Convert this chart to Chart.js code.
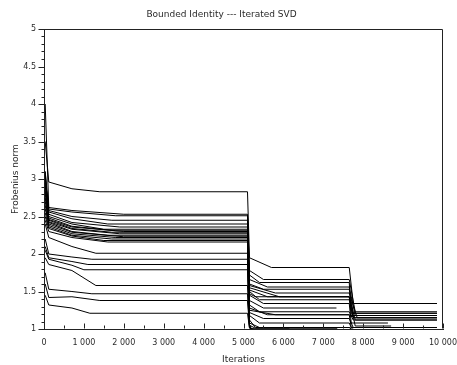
<!DOCTYPE html>
<html>
<head>
<meta charset="utf-8">
<script src="https://cdn.jsdelivr.net/npm/chart.js@4/dist/chart.umd.min.js"></script>
<style>
  html, body { margin: 0; padding: 0; background: #fff; }
  #wrap { width: 457px; height: 365px; }
</style>
</head>
<body>
<div id="wrap"><canvas id="svdChart"></canvas></div>
<script>
// Bounded Identity --- Iterated SVD : Frobenius norm per run

const TITLE = 'Bounded Identity --- Iterated SVD';
const X_TITLE = 'Iterations';
const Y_TITLE = 'Frobenius norm';

// break points shared by every run (iterations)
const START_AT = 30;
const EARLY_AT = 120;
const MID_AT = 700;
const DROP1_AT = 5100;
const DROP2_AT = 7650;

// one entry per run
const startNorm  = [3.50, 4.00, 3.10, 3.00, 2.90, 3.05, 2.80, 2.95, 2.70, 3.10, 2.85, 2.60, 2.75, 2.65, 2.55, 2.50, 2.45, 2.40, 2.20, 2.10, 2.05, 1.95, 1.75, 1.60, 1.45];
const earlyNorm  = [2.96, 2.62, 2.60, 2.58, 2.56, 2.53, 2.50, 2.48, 2.46, 2.45, 2.43, 2.42, 2.40, 2.38, 2.36, 2.34, 2.30, 2.22, 2.00, 1.95, 1.93, 1.86, 1.53, 1.42, 1.32];
const midNorm    = [2.87, 2.58, 2.56, 2.50, 2.47, 2.42, 2.40, 2.37, 2.36, 2.34, 2.33, 2.30, 2.29, 2.27, 2.25, 2.24, 2.22, 2.10, 1.96, 1.90, 1.85, 1.78, 1.50, 1.43, 1.28];
const settle1At  = [1400, 2000, 1800, 1700, 1600, 1900, 1500, 1800, 2000, 1700, 1900, 1600, 2000, 1800, 1700, 1500, 1600, 1300, 1200, 1100, 1000, 1300, 1200, 1400, 1150];
const plateau1   = [2.83, 2.53, 2.51, 2.45, 2.40, 2.36, 2.33, 2.31, 2.30, 2.29, 2.27, 2.25, 2.23, 2.22, 2.20, 2.18, 2.16, 2.01, 1.93, 1.86, 1.79, 1.58, 1.47, 1.38, 1.21];
const afterDrop1 = [1.95, 1.78, 1.72, 1.66, 1.60, 1.58, 1.55, 1.52, 1.50, 1.45, 1.47, 1.38, 1.32, 1.28, 1.25, 1.22, 1.18, 1.12, 1.06, 1.05, 1.08, 1.04, 1.03, 1.02, 1.01];
const settle2At  = [5700, 5500, 5400, 5600, 5500, 5800, 5900, 5600, 5400, 5500, 5300, 5500, 5400, 5600, 5800, 5500, 5400, 5300, 5200, 5300, 5400, 5200, 5200, 5200, 5200];
const plateau2   = [1.82, 1.66, 1.62, 1.56, 1.53, 1.48, 1.43, 1.43, 1.39, 1.34, 1.43, 1.28, 1.23, 1.19, 1.19, 1.14, 1.08, 1.02, 1.00, 1.01, 1.02, 1.00, 1.00, 1.00, 1.00];
const settle3At  = [7750, 7800, 7700, 7800, 7750, 7850, 7700, 7800, 7750, 7700, 7800, null, 7750, 7700, 7800, 7750, 7700, 7700, null, null, 7700, null, null, null, null];
const plateau3   = [1.34, 1.23, 1.21, 1.18, 1.21, 1.15, 1.18, 1.12, 1.15, 1.08, 1.04, null, 1.12, 1.02, 1.15, 1.02, 1.02, 1.00, null, null, 1.01, null, null, null, null];
const endAt      = [9850, 9850, 9850, 9850, 9850, 9850, 9850, 9850, 9850, 8620, 8700, 7330, 9850, 9850, 9850, 9850, 9850, 7750, 6150, 7350, 7700, 5250, 5300, 5200, 5250];

const X_MIN = 0, X_MAX = 10000;
const Y_MIN = 1, Y_MAX = 5;

const FONT = 'DejaVu Sans';
const TEXT = '#2a2a2a';
const AXIS = '#222';

function runPoints(i) {
  const pts = [
    { x: START_AT, y: startNorm[i] },
    { x: EARLY_AT, y: earlyNorm[i] },
    { x: MID_AT, y: midNorm[i] },
    { x: settle1At[i], y: plateau1[i] },
    { x: DROP1_AT, y: plateau1[i] },
    { x: DROP1_AT + 50, y: afterDrop1[i] }
  ];
  if (endAt[i] <= settle2At[i]) {
    pts.push({ x: endAt[i], y: plateau2[i] });
    return pts;
  }
  pts.push({ x: settle2At[i], y: plateau2[i] });
  if (plateau3[i] === null) {
    pts.push({ x: endAt[i], y: plateau2[i] });
    return pts;
  }
  pts.push({ x: DROP2_AT, y: plateau2[i] });
  pts.push({ x: settle3At[i], y: plateau3[i] });
  pts.push({ x: endAt[i], y: plateau3[i] });
  return pts;
}

const datasets = startNorm.map((_, i) => ({
  data: runPoints(i),
  borderColor: '#000',
  borderWidth: 1,
  pointRadius: 0,
  fill: false,
  tension: 0
}));

// box + tick marks (y outward, x inward), with minor ticks
const frameTicks = {
  id: 'frameTicks',
  afterDraw(chart) {
    const { ctx, chartArea: a, scales: { x, y } } = chart;
    ctx.save();
    ctx.strokeStyle = AXIS;
    ctx.lineWidth = 1;
    ctx.beginPath();
    const top = Math.round(a.top) + 0.5;
    const right = Math.round(a.right) - 0.5;
    const left = Math.round(a.left) + 0.5;
    const bottom = Math.round(a.bottom) - 0.5;
    ctx.moveTo(left, top); ctx.lineTo(right, top); ctx.lineTo(right, bottom);
    for (let k = 0; k <= 40; k++) {
      const py = Math.round(y.getPixelForValue(Y_MIN + k / 10)) + 0.5;
      const len = k % 5 === 0 ? 6 : 3;
      ctx.moveTo(left - len, py); ctx.lineTo(left, py);
    }
    for (let k = 0; k <= 20; k++) {
      const px = Math.round(x.getPixelForValue(k * 500)) + 0.5;
      const len = k % 2 === 0 ? 5 : 3;
      ctx.moveTo(px, bottom); ctx.lineTo(px, bottom - len);
    }
    ctx.stroke();
    ctx.restore();
  }
};

new Chart(document.getElementById('svdChart'), {
  type: 'line',
  data: { datasets },
  options: {
    responsive: true,
    maintainAspectRatio: false,
    animation: false,
    layout: { padding: { left: 0, right: 14, top: 0, bottom: 0 } },
    plugins: {
      legend: { display: false },
      tooltip: { enabled: false },
      title: {
        display: true,
        text: TITLE,
        color: TEXT,
        font: { family: FONT, size: 9, weight: 'normal' },
        padding: { top: 9, bottom: 9.2 }
      }
    },
    scales: {
      x: {
        type: 'linear',
        min: X_MIN,
        max: X_MAX,
        grid: { display: false, drawTicks: false },
        border: { display: true, color: AXIS, width: 1 },
        ticks: {
          stepSize: 1000,
          padding: 9,
          color: TEXT,
          font: { family: FONT, size: 8 },
          maxRotation: 0,
          callback: v => String(v).replace(/\B(?=(\d{3})+(?!\d))/g, ' ')
        },
        title: {
          display: true,
          text: X_TITLE,
          color: TEXT,
          font: { family: FONT, size: 9 },
          padding: { top: 0, bottom: 0 }
        },
        afterFit: s => { s.height = 36; s.paddingLeft = 0; s.paddingRight = 0; }
      },
      y: {
        type: 'linear',
        min: Y_MIN,
        max: Y_MAX,
        grid: { display: false, drawTicks: false },
        border: { display: true, color: AXIS, width: 1 },
        ticks: {
          stepSize: 0.5,
          padding: 8,
          color: TEXT,
          font: { family: FONT, size: 8 },
          callback: v => String(+v.toFixed(1))
        },
        title: {
          display: true,
          text: Y_TITLE,
          color: TEXT,
          font: { family: FONT, size: 9 },
          padding: { top: 10, bottom: 0 }
        },
        afterFit: s => { s.width = 44; s.paddingTop = 0; s.paddingBottom = 0; }
      }
    }
  },
  plugins: [frameTicks]
});
</script>
</body>
</html>
